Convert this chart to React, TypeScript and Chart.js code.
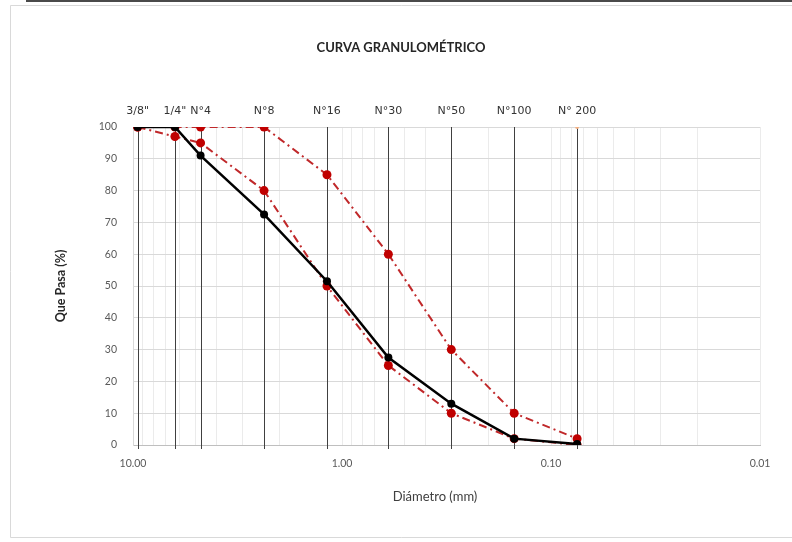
import React, { useEffect, useRef } from "react";
import { Chart, registerables } from "chart.js";
Chart.register(...registerables);

const sieveLabels = ['3/8"', '1/4"', "N°4", "N°8", "N°16", "N°30", "N°50", "N°100", "N° 200"];
const sieveSizes = [9.5, 6.3, 4.75, 2.36, 1.18, 0.6, 0.3, 0.15, 0.075];
const muestra = [100, 100, 91, 72.5, 51.5, 27.5, 13, 2, 0.3];
const limiteInferior = [100, 97, 95, 80, 50, 25, 10, 2, 0];
const limiteSuperior = [100, 100, 100, 100, 85, 60, 30, 10, 2];
const markerSize = [0.075];
const markerValue = [100];
const decadeValues = [10, 1, 0.1, 0.01];
const decadeLabels = ["10.00", "1.00", "0.10", "0.01"];

const FONT = "Lato, 'Open Sans', sans-serif";

const framePlugin = {
  id: "frame",
  beforeDraw(chart: any) {
    const { ctx } = chart;
    ctx.save();
    ctx.fillStyle = "#ffffff";
    ctx.fillRect(0, 0, chart.width, chart.height);
    ctx.strokeStyle = "#d9d9d9";
    ctx.lineWidth = 1;
    ctx.beginPath();
    ctx.moveTo(10.5, 537.5);
    ctx.lineTo(10.5, 5.5);
    ctx.lineTo(chart.width, 5.5);
    ctx.moveTo(10.5, 537.5);
    ctx.lineTo(chart.width, 537.5);
    ctx.stroke();
    ctx.strokeStyle = "#4a4a4a";
    ctx.lineWidth = 2;
    ctx.beginPath();
    ctx.moveTo(26, 1);
    ctx.lineTo(chart.width, 1);
    ctx.stroke();
    ctx.restore();
  },
};

const sievePlugin = {
  id: "sieves",
  beforeDatasetsDraw(chart: any) {
    const { ctx, chartArea } = chart;
    const xs = chart.scales.x;
    ctx.save();
    ctx.strokeStyle = "#404040";
    ctx.lineWidth = 1;
    sieveSizes.forEach((s) => {
      const x = Math.round(xs.getPixelForValue(s)) + 0.5;
      ctx.beginPath();
      ctx.moveTo(x, chartArea.top);
      ctx.lineTo(x, chartArea.bottom + 4);
      ctx.stroke();
    });
    ctx.restore();
  },
  afterDraw(chart: any) {
    const { ctx, chartArea } = chart;
    const xs = chart.scales.x;
    ctx.save();
    ctx.fillStyle = "#333333";
    ctx.font = "11px 'DejaVu Sans', sans-serif";
    ctx.textAlign = "center";
    ctx.textBaseline = "alphabetic";
    sieveSizes.forEach((s, i) => {
      const x = xs.getPixelForValue(s);
      ctx.fillText(sieveLabels[i], x, chartArea.top - 13);
    });
    // titles
    ctx.fillStyle = "#262626";
    ctx.font = `bold 13px ${FONT}`;
    ctx.fillText("CURVA GRANULOMÉTRICO", 401, 52);
    ctx.fillStyle = "#404040";
    ctx.font = `13px ${FONT}`;
    ctx.fillText("Diámetro (mm)", 435, 501);
    ctx.translate(65, (chartArea.top + chartArea.bottom) / 2);
    ctx.rotate(-Math.PI / 2);
    ctx.fillStyle = "#262626";
    ctx.font = `bold 12.5px ${FONT}`;
    ctx.fillText("Que Pasa (%)", 0, 0);
    ctx.restore();
  },
};

export default function App() {
  const ref = useRef<HTMLCanvasElement>(null);
  useEffect(() => {
    if (!ref.current) return;
    const toPts = (vals: number[], xs: number[]) => vals.map((v, i) => ({ x: xs[i], y: v }));
    const chart = new Chart(ref.current, {
      type: "line",
      data: {
        datasets: [
          {
            label: "Muestra",
            data: toPts(muestra, sieveSizes),
            borderColor: "#000000",
            backgroundColor: "#000000",
            borderWidth: 2.5,
            pointRadius: 4,
            pointBackgroundColor: "#000000",
            pointBorderWidth: 0,
            order: 0,
          },
          {
            label: "Límite inferior",
            data: toPts(limiteInferior, sieveSizes),
            borderColor: "#c0282a",
            backgroundColor: "#c00000",
            borderWidth: 2,
            borderDash: [8, 4, 2, 4],
            pointRadius: 4.5,
            pointBackgroundColor: "#c00000",
            pointBorderWidth: 0,
            order: 1,
          },
          {
            label: "Límite superior",
            data: toPts(limiteSuperior, sieveSizes),
            borderColor: "#c0282a",
            backgroundColor: "#c00000",
            borderWidth: 2,
            borderDash: [8, 4, 2, 4],
            pointRadius: 4.5,
            pointBackgroundColor: "#c00000",
            pointBorderWidth: 0,
            order: 2,
          },
          {
            label: "Tamices",
            data: toPts(markerValue, markerSize),
            borderColor: "#f4b183",
            backgroundColor: "#f4b183",
            showLine: false,
            pointRadius: 2,
            pointBorderWidth: 0,
            order: 3,
          },
        ],
      },
      options: {
        animation: false,
        responsive: false,
        layout: { padding: { left: 93, right: 32, top: 127, bottom: 67 } },
        plugins: { legend: { display: false }, tooltip: { enabled: false }, title: { display: false } },
        scales: {
          x: {
            type: "logarithmic",
            reverse: true,
            min: 0.01,
            max: 10,
            afterFit: (s: any) => {
              s.height = 30;
            },
            afterBuildTicks: (s: any) => {
              const t: any[] = [];
              for (let d = 0; d < decadeValues.length; d++) {
                const base = decadeValues[d];
                t.push({ value: base });
                if (d < decadeValues.length - 1) {
                  for (let m = 2; m <= 9; m++) t.push({ value: (base / 10) * m });
                }
              }
              s.ticks = t;
            },
            ticks: {
              autoSkip: false,
              maxRotation: 0,
              padding: 12,
              color: "#595959",
              font: { family: FONT, size: 10.5 },
              callback: (v: any) => {
                const i = decadeValues.findIndex((d) => Math.abs(d - v) < 1e-9);
                return i >= 0 ? decadeLabels[i] : "";
              },
            },
            grid: { color: "#ebebeb", drawTicks: false, lineWidth: 1 },
            border: { display: true, color: "#bfbfbf", width: 1 },
          },
          y: {
            min: 0,
            max: 100,
            afterFit: (s: any) => {
              s.width = 40;
            },
            ticks: {
              stepSize: 10,
              padding: 16,
              color: "#595959",
              font: { family: FONT, size: 10.5 },
            },
            grid: { color: "#d9d9d9", drawTicks: false },
            border: { display: true, color: "#d9d9d9" },
          },
        },
      },
      plugins: [framePlugin, sievePlugin],
    });
    return () => chart.destroy();
  }, []);
  return (
    <div style={{ position: "fixed", left: 0, top: 0, width: 792, height: 542 }}>
      <canvas ref={ref} width={792} height={542} style={{ width: 792, height: 542, display: "block" }} />
    </div>
  );
}
